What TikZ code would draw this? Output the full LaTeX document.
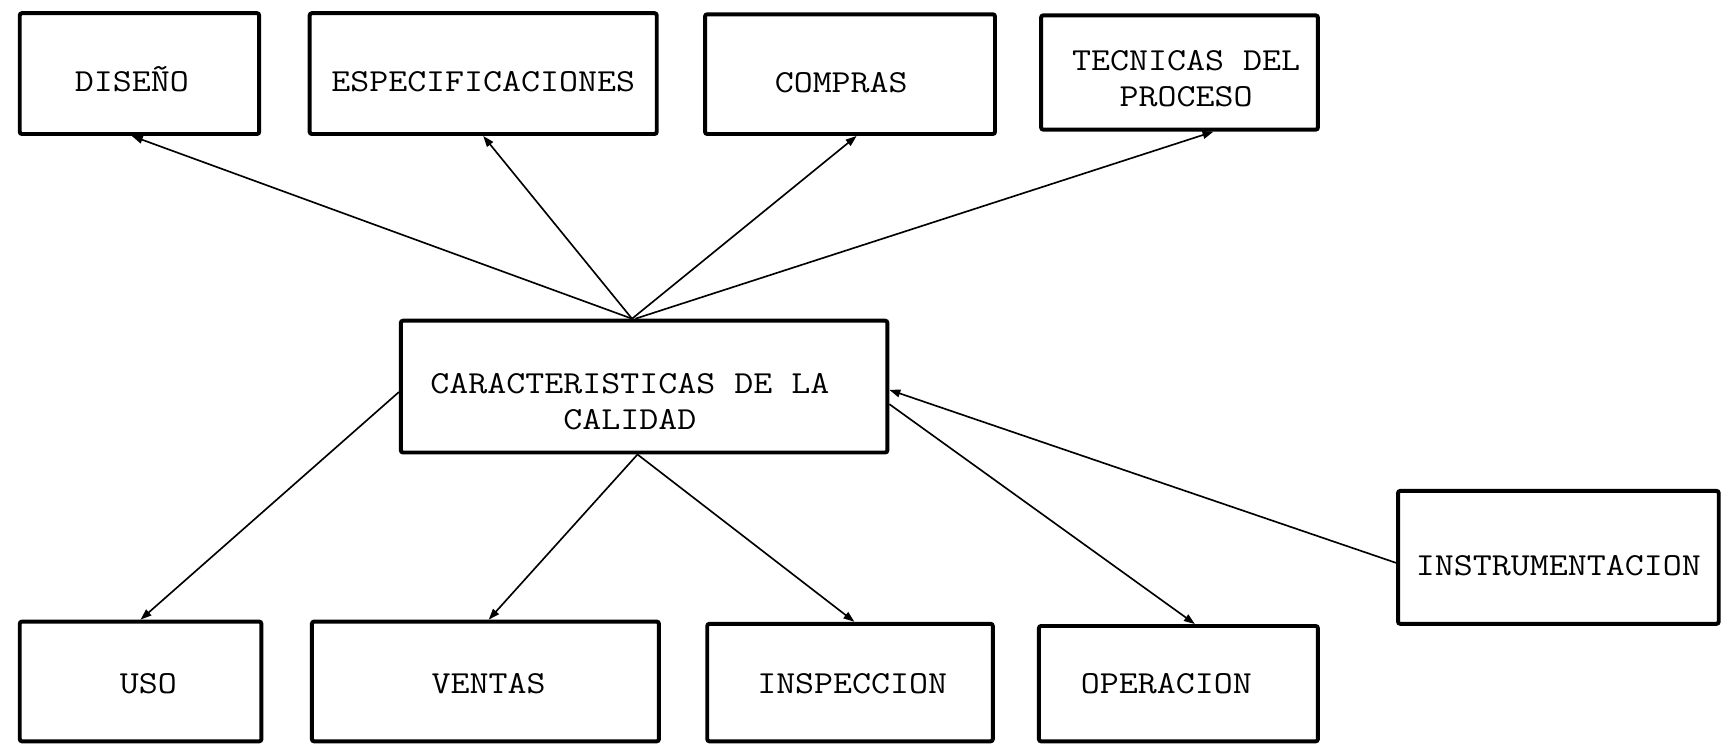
\documentclass[tikz,border=0pt]{standalone}
\usepackage{fontspec}
\setmonofont{Latin Modern Mono}[FakeStretch=1.15]
\usetikzlibrary{arrows.meta}
\newcommand\tx[3]{\raisebox{-#2}[\height][\depth]{\kern#1\begin{tabular}{@{}c@{}}#3\end{tabular}\kern-#1}}
\tikzset{
  box/.style={draw=black, line width=1.8pt, rounded corners=1pt, inner sep=0pt,
    font=\ttfamily\fontsize{14.6}{16.5}\selectfont, fill=white},
  conn/.style={line width=0.75pt, -{Triangle[length=5pt,width=3.5pt]}}
}
\begin{document}
\begin{tikzpicture}[x=0.5pt,y=-0.5pt]
\useasboundingbox (0,0) rectangle (1568,677);
\fill[white] (0,0) rectangle (1568,677);
% top row
\node[box, minimum width=109pt, minimum height=55pt] (dis) at (127,67) {\tx{-3.5pt}{5pt}{DISEÑO}};
\node[box, minimum width=158pt, minimum height=55pt] (esp) at (440,67) {\tx{0pt}{5pt}{ESPECIFICACIONES}};
\node[box, minimum width=132pt, minimum height=54.5pt] (com) at (774,67.5) {\tx{-4pt}{5pt}{COMPRAS}};
\node[box, minimum width=126pt, minimum height=52pt] (tec) at (1074,66) {\tx{3pt}{4pt}{TECNICAS DEL\\PROCESO}};
% centre
\node[box, minimum width=221.5pt, minimum height=60pt] (car) at (586.5,352) {\tx{-6.5pt}{8pt}{CARACTERISTICAS DE LA\\CALIDAD}};
% bottom row
\node[box, minimum width=110pt, minimum height=54.5pt] (uso) at (128,620.5) {\tx{3.5pt}{2pt}{USO}};
\node[box, minimum width=158pt, minimum height=54.5pt] (ven) at (442,620.5) {\tx{1.5pt}{2pt}{VENTAS}};
\node[box, minimum width=130pt, minimum height=53.5pt] (ins) at (774,621.5) {\tx{1pt}{1.5pt}{INSPECCION}};
\node[box, minimum width=127pt, minimum height=52.5pt] (ope) at (1073,622.5) {\tx{-5.5pt}{1pt}{OPERACION}};
\node[box, minimum width=146pt, minimum height=60.5pt] (ist) at (1419,507.5) {\tx{0pt}{4.75pt}{INSTRUMENTACION}};
% connectors
\draw[conn] ([xshift=-5.5pt]car.north) -- ([xshift=-3.5pt]dis.south);
\draw[conn] ([xshift=-5.5pt]car.north) -- (esp.south);
\draw[conn] ([xshift=-5.5pt]car.north) -- ([xshift=3pt]com.south);
\draw[conn] ([xshift=-4pt]car.north) -- ([xshift=15.5pt]tec.south);
\draw[conn] ([yshift=-2.5pt]car.west) -- (uso.north);
\draw[conn] ([xshift=-3pt]car.south) -- ([xshift=1.5pt]ven.north);
\draw[conn] ([xshift=-3pt]car.south) -- ([xshift=2pt]ins.north);
\draw[conn] ([yshift=-8pt]car.east) -- ([xshift=7.5pt]ope.north);
\draw[conn] ([yshift=-2.5pt]ist.west) -- ([yshift=-1.5pt]car.east);
\end{tikzpicture}
\end{document}
